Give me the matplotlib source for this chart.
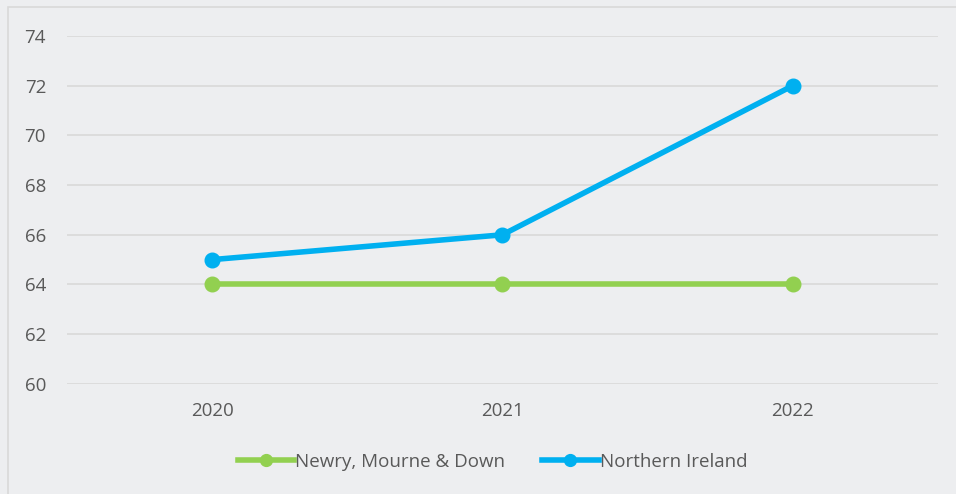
import matplotlib.pyplot as plt
from matplotlib.patches import Rectangle

years = ["2020", "2021", "2022"]
newry = [64, 64, 64]
ni = [65, 66, 72]
yticks = [60, 62, 64, 66, 68, 70, 72, 74]

plt.rcParams['font.family'] = ['Open Sans', 'DejaVu Sans']
txt = '#595959'
bg = '#EDEEF0'

fig = plt.figure(figsize=(9.56, 4.94), dpi=100, facecolor=bg)
ax = fig.add_axes([0.070, 0.223, 0.911, 0.704], facecolor=bg)

# outer chart border
fig.patches.append(Rectangle((8 / 956, -0.1), 1.2, 1 - 7 / 494 + 0.1, transform=fig.transFigure,
                             fill=False, edgecolor='#D9D9D9', linewidth=1.2))

x = range(len(years))
ax.plot(x, newry, color='#92D050', lw=4, marker='o', ms=10.5, label='Newry, Mourne & Down', zorder=3)
ax.plot(x, ni, color='#00B0F0', lw=4, marker='o', ms=10.5, label='Northern Ireland', zorder=3)

ax.set_xlim(-0.5, 2.5)
ax.set_ylim(60, 74)
ax.set_yticks(yticks)
ax.set_xticks(list(x))
ax.set_xticklabels(years)
ax.grid(axis='y', color='#D9D9D9', lw=1.2)
ax.set_axisbelow(True)
for s in ax.spines.values():
    s.set_visible(False)
ax.tick_params(length=0, labelsize=13.5, colors=txt)
ax.tick_params(axis='x', pad=13)
ax.tick_params(axis='y', pad=15)

leg = fig.legend(loc='center', bbox_to_anchor=(0.515, 1 - 462 / 494), ncol=2, frameon=False,
                 fontsize=13.5, handlelength=3.0, handletextpad=0.05, columnspacing=2.0)
for t in leg.get_texts():
    t.set_color(txt)
for h in leg.legend_handles:
    h.set_markersize(8.5)

fig.savefig('out.png', dpi=100, facecolor=bg)
